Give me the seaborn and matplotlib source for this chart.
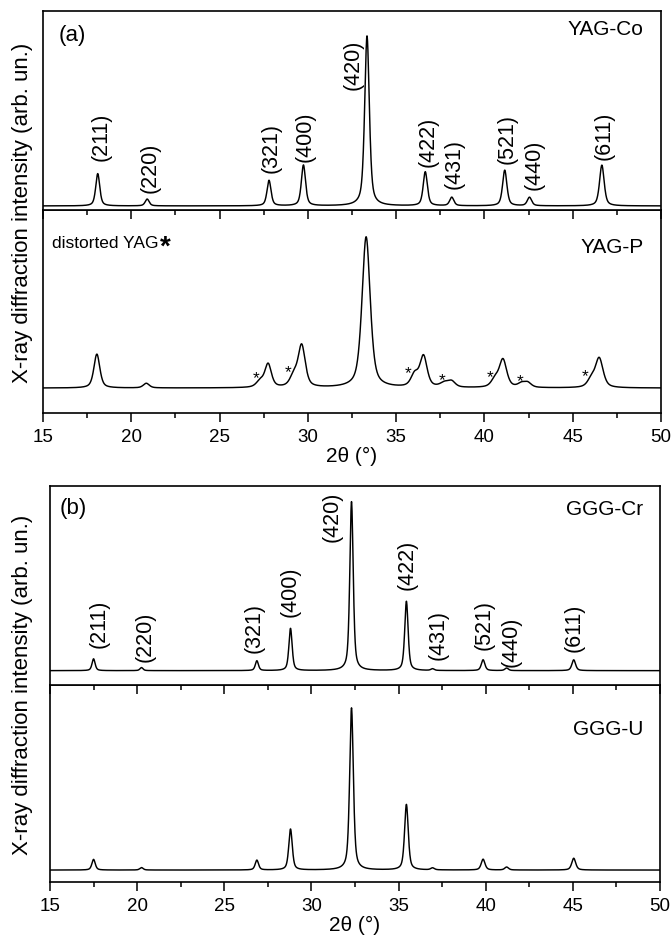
import numpy as np
import pandas as pd
import matplotlib
matplotlib.use("Agg")
import matplotlib.pyplot as plt
import seaborn as sns
from matplotlib.ticker import MultipleLocator

# ---------------- data ----------------
hkl = ["(211)", "(220)", "(321)", "(400)", "(420)", "(422)", "(431)", "(521)", "(440)", "(611)"]

# YAG-Co : peak positions (2theta, deg), peak intensities (420 = 100), FWHM
yag_co_pos = [18.1, 20.9, 27.8, 29.75, 33.35, 36.65, 38.15, 41.15, 42.55, 46.65]
yag_co_int = [19, 4, 15, 24, 100, 20, 5, 21, 5, 24]
yag_co_fwhm = [0.27, 0.27, 0.27, 0.28, 0.31, 0.28, 0.28, 0.29, 0.29, 0.31]

# YAG-P : garnet peaks plus "distorted YAG" shoulder peaks
yag_p_pos = [18.05, 20.85, 27.75, 29.65, 33.3, 36.55, 38.15, 41.05, 42.45, 46.5]
yag_p_int = [22, 3, 15, 27, 98, 20, 3.5, 18, 3, 19]
yag_p_fwhm = [0.40, 0.40, 0.44, 0.48, 0.55, 0.48, 0.48, 0.50, 0.48, 0.52]
yag_p_dist_pos = [27.3, 29.2, 36.05, 37.75, 40.6, 42.1, 46.05]
yag_p_dist_int = [4, 7, 8, 3, 5, 2.5, 5]
yag_p_dist_fwhm = [0.5, 0.5, 0.5, 0.6, 0.5, 0.5, 0.5]
star_pos = [27.05, 28.9, 35.7, 37.6, 40.3, 42.0, 45.7]
star_lvl = [6.5, 10.5, 10.0, 5.3, 7.3, 4.7, 8.0]

# GGG-Cr and GGG-U
ggg_pos = [17.5, 20.25, 26.87, 28.8, 32.3, 35.45, 36.95, 39.85, 41.2, 45.05]
ggg_cr_int = [7.0, 1.8, 5.8, 25, 100, 41, 1.0, 6.4, 1.5, 6.4]
ggg_cr_fwhm = [0.21, 0.21, 0.21, 0.22, 0.23, 0.23, 0.23, 0.24, 0.24, 0.25]
ggg_u_int = [6.5, 1.5, 6.0, 25, 99, 40, 1.2, 6.6, 1.8, 7.2]
ggg_u_fwhm = [0.23, 0.23, 0.23, 0.24, 0.25, 0.25, 0.25, 0.26, 0.26, 0.27]

# label placement (Miller indices), in data coords
yag_lab_x = [18.28, 21.06, 27.9, 29.87, 32.54, 36.8, 38.27, 41.3, 42.8, 46.8]
yag_lab_y = [27, 8.2, 20, 26.5, 98.2, 23.5, 10.6, 25.3, 10, 27.6]
ggg_lab_x = [17.83, 20.47, 26.7, 28.75, 31.2, 35.47, 37.26, 39.9, 41.43, 45.1]
ggg_lab_y = [14, 5.9, 11, 32.5, 106.5, 48.3, 6.9, 12.8, 3, 11.8]

x_ticks = [15, 20, 25, 30, 35, 40, 45, 50]

# ---------------- helpers ----------------
two_theta = np.linspace(15, 50, 3501)


def pattern(pos, inten, fwhm, eta=0.55):
    y = np.zeros_like(two_theta)
    for p, h, w in zip(pos, inten, fwhm):
        d = (two_theta - p) / (w / 2.0)
        y += h * (eta / (1 + d ** 2) + (1 - eta) * np.exp(-np.log(2) * d ** 2))
    return y


curves = {
    "YAG-Co": pattern(yag_co_pos, yag_co_int, yag_co_fwhm),
    "YAG-P": pattern(yag_p_pos, yag_p_int, yag_p_fwhm)
    + pattern(yag_p_dist_pos, yag_p_dist_int, yag_p_dist_fwhm),
    "GGG-Cr": pattern(ggg_pos, ggg_cr_int, ggg_cr_fwhm),
    "GGG-U": pattern(ggg_pos, ggg_u_int, ggg_u_fwhm),
}

# ---------------- style ----------------
sns.set_style("white")
plt.rcParams["font.family"] = ["Liberation Sans", "DejaVu Sans"]
plt.rcParams["text.color"] = "black"
plt.rcParams["axes.labelcolor"] = "black"
plt.rcParams["xtick.color"] = "black"
plt.rcParams["ytick.color"] = "black"

W, H = 671, 937
fig = plt.figure(figsize=(W / 100, H / 100), dpi=100)


def rect(l, t, r, b):
    return [l / W, 1 - b / H, (r - l) / W, (b - t) / H]


axes = {
    "YAG-Co": fig.add_axes(rect(43, 12, 661, 211)),
    "YAG-P": fig.add_axes(rect(43, 211, 661, 414)),
    "GGG-Cr": fig.add_axes(rect(50, 487, 660, 686)),
    "GGG-U": fig.add_axes(rect(50, 686, 660, 883)),
}
ylims = {
    "YAG-Co": (-2.4, 114.7),
    "YAG-P": (-16.2, 115.6),
    "GGG-Cr": (-8.5, 109.3),
    "GGG-U": (-7.3, 113.0),
}
name_y = {"YAG-Co": 0.91, "YAG-P": 0.818, "GGG-Cr": 0.885, "GGG-U": 0.78}
upper = {"YAG-Co": True, "YAG-P": False, "GGG-Cr": True, "GGG-U": False}

for name, ax in axes.items():
    df = pd.DataFrame({"2theta": two_theta, "I": curves[name]})
    sns.lineplot(data=df, x="2theta", y="I", ax=ax, color="black", linewidth=1.05)
    ax.set_xlim(15, 50)
    ax.set_ylim(*ylims[name])
    ax.set_yticks([])
    ax.set_xticks(x_ticks)
    ax.xaxis.set_minor_locator(MultipleLocator(2.5))
    ax.tick_params(axis="x", which="major", direction="out", length=6.5, width=1.1,
                   labelsize=13.5, pad=4, bottom=True, top=False)
    ax.tick_params(axis="x", which="minor", direction="out", length=3.5, width=1.1,
                   bottom=True, top=False)
    for s in ax.spines.values():
        s.set_visible(True)
        s.set_linewidth(1.2)
        s.set_color("black")
    ax.set_ylabel("")
    if upper[name]:
        ax.set_xlabel("")
        ax.tick_params(axis="x", labelbottom=False)
        ax.set_zorder(3)
    else:
        ax.patch.set_visible(False)
        ax.set_xlabel("2\u03b8 (\u00b0)", fontsize=15, labelpad=1)
    ax.text(0.972, name_y[name], name, transform=ax.transAxes,
            ha="right", va="center", fontsize=15)

# panel letters
axes["YAG-Co"].text(0.026, 0.884, "(a)", transform=axes["YAG-Co"].transAxes,
                    ha="left", va="center", fontsize=16)
axes["GGG-Cr"].text(0.016, 0.89, "(b)", transform=axes["GGG-Cr"].transAxes,
                    ha="left", va="center", fontsize=16)

# Miller indices
for ax, lx, ly in ((axes["YAG-Co"], yag_lab_x, yag_lab_y),
                   (axes["GGG-Cr"], ggg_lab_x, ggg_lab_y)):
    for lab, x, y in zip(hkl, lx, ly):
        va = "top" if lab == "(420)" else "bottom"
        ax.text(x, y, lab, rotation=90, ha="center", va=va, fontsize=15.5)

# distorted YAG markers
axp = axes["YAG-P"]
t = axp.text(0.014, 0.84, "distorted YAG", transform=axp.transAxes,
             ha="left", va="center", fontsize=12.5)
axp.annotate("*", xy=(1, 0.5), xycoords=t, xytext=(1.5, -3), textcoords="offset points",
             ha="left", va="center", fontsize=20, fontweight="bold")
for x, y in zip(star_pos, star_lvl):
    axp.text(x, y, "*", ha="center", va="center", fontsize=12.5)

# y labels
for yc in ((12 + 414) / 2, (487 + 883) / 2):
    fig.text(23 / W, 1 - yc / H, "X-ray diffraction intensity (arb. un.)", rotation=90,
             ha="center", va="center", fontsize=16)

fig.savefig("out.png", dpi=100)
